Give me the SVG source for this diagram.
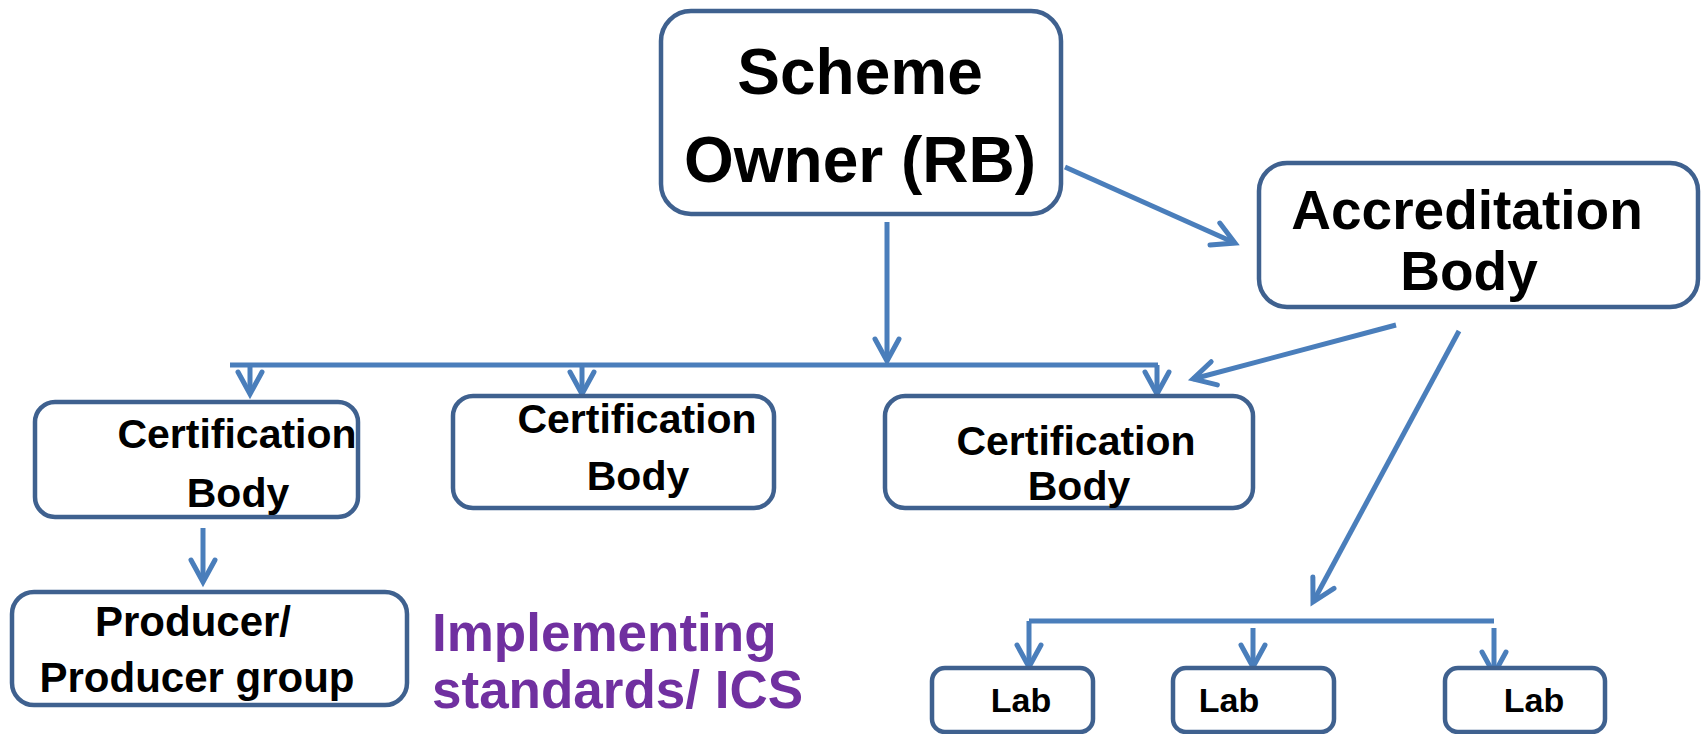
<svg xmlns="http://www.w3.org/2000/svg" width="1701" height="734" viewBox="0 0 1701 734">
<style>
.box{fill:#fff;stroke:#3F618F;stroke-width:4.5}
.t{font-family:"Liberation Sans",Arial,sans-serif;font-weight:bold;fill:#000;text-anchor:middle}
.c{fill:none;stroke:#4A7EBB;stroke-width:5}
.p{font-family:"Liberation Sans",Arial,sans-serif;font-weight:bold;fill:#7030A0;font-size:53px}
</style>
<defs>
<marker id="ah" markerUnits="userSpaceOnUse" markerWidth="40" markerHeight="40" viewBox="-30 -20 40 40" refX="0" refY="0" orient="auto" overflow="visible">
<path d="M-22,-12 L0,0 L-22,12" fill="none" stroke="#4A7EBB" stroke-width="5" stroke-linecap="round" stroke-linejoin="miter"/>
</marker>
</defs>
<g id="connectors">
<line class="c" x1="887" y1="222" x2="887" y2="361" marker-end="url(#ah)"/>
<polyline class="c" points="230,365 1158,365"/>
<line class="c" x1="250" y1="365" x2="250" y2="394" marker-end="url(#ah)"/>
<line class="c" x1="582" y1="365" x2="582" y2="394" marker-end="url(#ah)"/>
<line class="c" x1="1157" y1="365" x2="1157" y2="394" marker-end="url(#ah)"/>
<line class="c" x1="1065" y1="167" x2="1235" y2="243" marker-end="url(#ah)"/>
<line class="c" x1="1396" y1="325" x2="1193" y2="379" marker-end="url(#ah)"/>
<line class="c" x1="1459" y1="331" x2="1313" y2="602" marker-end="url(#ah)"/>
<line class="c" x1="203" y1="528" x2="203" y2="582" marker-end="url(#ah)"/>
<polyline class="c" points="1029,621 1494,621"/>
<line class="c" x1="1029" y1="621" x2="1029" y2="667" marker-end="url(#ah)"/>
<line class="c" x1="1253" y1="628" x2="1253" y2="667" marker-end="url(#ah)"/>
<line class="c" x1="1494" y1="628" x2="1494" y2="674" marker-end="url(#ah)"/>
</g>
<g id="scheme-owner">
<rect class="box" x="661" y="11" width="400" height="203" rx="30"/>
<text class="t" x="860" y="94" font-size="64">Scheme</text>
<text class="t" x="860" y="182" font-size="64">Owner (RB)</text>
</g>
<g id="accreditation-body">
<rect class="box" x="1259" y="163" width="439" height="144" rx="28"/>
<text class="t" x="1467" y="229" font-size="55">Accreditation</text>
<text class="t" x="1469" y="290" font-size="55">Body</text>
</g>
<g id="cert-body-1">
<rect class="box" x="35" y="402" width="323" height="115" rx="20"/>
<text class="t" x="237" y="448" font-size="41">Certification</text>
<text class="t" x="238" y="507" font-size="41">Body</text>
</g>
<g id="cert-body-2">
<rect class="box" x="453" y="396" width="321" height="112" rx="20"/>
<text class="t" x="637" y="433" font-size="41">Certification</text>
<text class="t" x="638" y="490" font-size="41">Body</text>
</g>
<g id="cert-body-3">
<rect class="box" x="885" y="396" width="368" height="112" rx="20"/>
<text class="t" x="1076" y="455" font-size="41">Certification</text>
<text class="t" x="1079" y="500" font-size="41">Body</text>
</g>
<g id="producer">
<rect class="box" x="12" y="592" width="395" height="113" rx="22"/>
<text class="t" x="193" y="636" font-size="42">Producer/</text>
<text class="t" x="197" y="692" font-size="42">Producer group</text>
</g>
<g id="implementing">
<text class="p" x="432" y="651">Implementing</text>
<text class="p" x="432" y="708">standards/ ICS</text>
</g>
<g id="lab-1">
<rect class="box" x="932" y="668" width="161" height="64" rx="13"/>
<text class="t" x="1021" y="712" font-size="34">Lab</text>
</g>
<g id="lab-2">
<rect class="box" x="1173" y="668" width="161" height="64" rx="13"/>
<text class="t" x="1229" y="712" font-size="34">Lab</text>
</g>
<g id="lab-3">
<rect class="box" x="1445" y="668" width="160" height="64" rx="13"/>
<text class="t" x="1534" y="712" font-size="34">Lab</text>
</g>
</svg>
